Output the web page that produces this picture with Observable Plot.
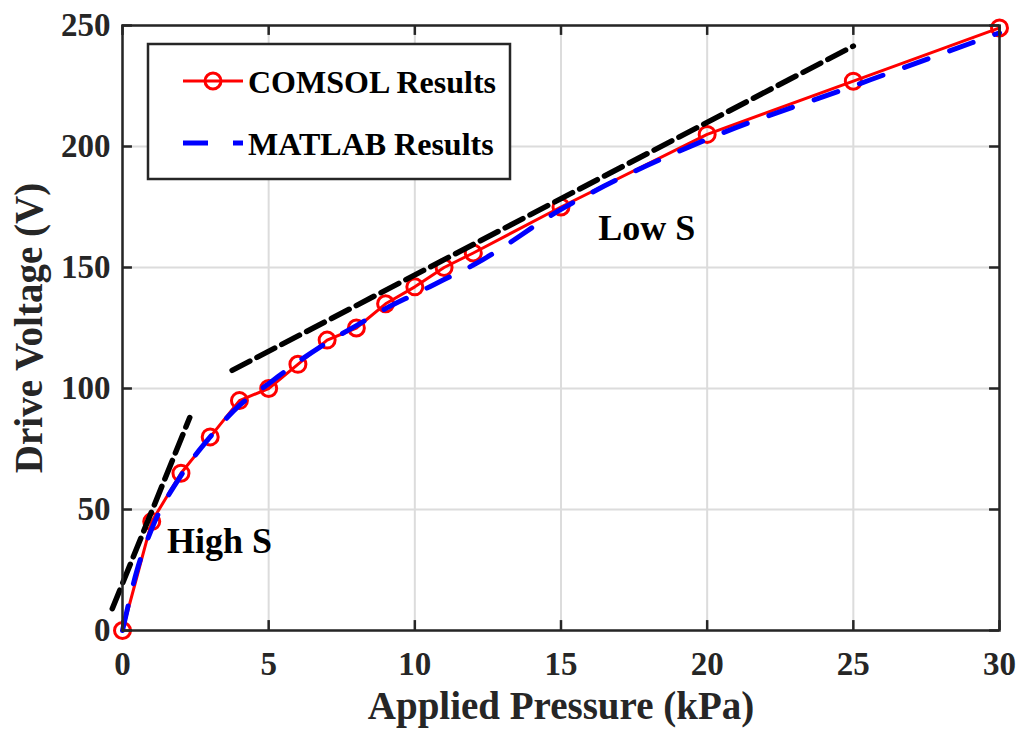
<!DOCTYPE html>
<html>
<head>
<meta charset="utf-8">
<script src="https://cdn.jsdelivr.net/npm/d3@7"></script>
<script src="https://cdn.jsdelivr.net/npm/@observablehq/plot@0.6"></script>
<style>
  body { margin: 0; background: #fff; }
</style>
</head>
<body>
<div id="chart"></div>
<script>
// Applied pressure (kPa) vs. drive voltage (V)
const comsolPressure = [0, 1, 2, 3, 4, 5, 6, 7, 8, 9, 10, 11, 12, 15, 20, 25, 30];
const comsolVoltage  = [0, 45, 65, 80, 95, 100, 110, 120, 125, 135, 142, 150, 156, 175, 205, 227, 249];

const matlabPressure = [0, 0.5, 1, 2, 3, 4, 5, 6, 7, 8, 9, 10, 11, 12, 15, 20, 25, 30];
const matlabVoltage  = [0, 25, 42, 64, 80, 93, 102, 111, 119, 126, 133, 139, 145, 151, 174, 203, 225, 247];

// Sensitivity tangent lines
const highSPressure = [-0.35, 2.3];
const highSVoltage  = [9, 88];
const lowSPressure  = [3.75, 25];
const lowSVoltage   = [107.5, 241.5];

const annotationText     = ["High S", "Low S"];
const annotationPressure = [3.32, 17.93];
const annotationVoltage  = [36.8, 166.3];

const xTicks = [0, 5, 10, 15, 20, 25, 30];
const yTicks = [0, 50, 100, 150, 200, 250];

const seriesNames = ["COMSOL Results", "MATLAB Results"];

const zip = (xs, ys) => xs.map((x, i) => ({x, y: ys[i]}));
const comsol = zip(comsolPressure, comsolVoltage);
const matlab = zip(matlabPressure, matlabVoltage);
const highS = zip(highSPressure, highSVoltage);
const lowS = zip(lowSPressure, lowSVoltage);
const notes = annotationText.map((t, i) => ({t, x: annotationPressure[i], y: annotationVoltage[i]}));

const axisColor = "#262626";
const font = "'Liberation Serif', 'Times New Roman', serif";
const tickX = 0.34;  // inward tick length in kPa
const tickY = 4.1;   // inward tick length in V

const plot = Plot.plot({
  width: 1025,
  height: 738,
  marginLeft: 122,
  marginRight: 26,
  marginTop: 25,
  marginBottom: 108,
  x: {domain: [0, 30]},
  y: {domain: [0, 250]},
  style: {fontFamily: font, fontWeight: "bold", fontSize: "33px", color: axisColor, background: "#fff", overflow: "visible"},
  marks: [
    Plot.gridX(xTicks, {stroke: "#dcdcdc", strokeOpacity: 1, strokeWidth: 2}),
    Plot.gridY(yTicks, {stroke: "#dcdcdc", strokeOpacity: 1, strokeWidth: 2}),
    Plot.line(comsol, {x: "x", y: "y", stroke: "#ff0000", strokeWidth: 3}),
    Plot.dot(comsol, {x: "x", y: "y", r: 8, stroke: "#ff0000", strokeWidth: 3, fill: "none"}),
    Plot.line(matlab, {x: "x", y: "y", stroke: "#0000ff", strokeWidth: 5, strokeDasharray: "25,23", curve: "monotone-x"}),
    Plot.line(highS, {x: "x", y: "y", stroke: "#000", strokeWidth: 5.5, strokeDasharray: "20,8"}),
    Plot.line(lowS, {x: "x", y: "y", stroke: "#000", strokeWidth: 5.5, strokeDasharray: "20,8"}),
    Plot.frame({stroke: axisColor, strokeWidth: 2.5}),
    Plot.ruleX(xTicks, {y1: 0, y2: tickY, stroke: axisColor, strokeWidth: 2.5}),
    Plot.ruleX(xTicks, {y1: 250 - tickY, y2: 250, stroke: axisColor, strokeWidth: 2.5}),
    Plot.ruleY(yTicks, {x1: 0, x2: tickX, stroke: axisColor, strokeWidth: 2.5}),
    Plot.ruleY(yTicks, {x1: 30 - tickX, x2: 30, stroke: axisColor, strokeWidth: 2.5}),
    Plot.axisX({ticks: xTicks, tickSize: 0, tickPadding: 21, label: null, fontSize: 33}),
    Plot.axisY({ticks: yTicks, tickSize: 0, tickPadding: 12, label: null, fontSize: 33}),
    Plot.text(["Applied Pressure (kPa)"], {text: d => d, frameAnchor: "bottom", dy: 76, lineAnchor: "middle", fontSize: 39, fill: axisColor}),
    Plot.text(["Drive Voltage (V)"], {text: d => d, frameAnchor: "left", dx: -93, rotate: -90, textAnchor: "middle", lineAnchor: "middle", fontSize: 39, fill: axisColor}),
    Plot.text(notes, {x: "x", y: "y", text: "t", fontSize: 36, fill: "#000"})
  ]
});

document.getElementById("chart").appendChild(plot);

// Legend box in the upper-left corner of the plot area
const svg = d3.select(plot);
const lg = svg.append("g").attr("font-family", font).attr("font-weight", "bold").attr("text-anchor", "start");
lg.append("rect").attr("x", 148).attr("y", 44).attr("width", 362).attr("height", 135)
  .attr("fill", "#fff").attr("stroke", axisColor).attr("stroke-width", 2.5);
lg.append("line").attr("x1", 183).attr("x2", 243).attr("y1", 81).attr("y2", 81)
  .attr("stroke", "#ff0000").attr("stroke-width", 3);
lg.append("circle").attr("cx", 213).attr("cy", 81).attr("r", 8)
  .attr("fill", "none").attr("stroke", "#ff0000").attr("stroke-width", 3);
lg.append("line").attr("x1", 183).attr("x2", 243).attr("y1", 143).attr("y2", 143)
  .attr("stroke", "#0000ff").attr("stroke-width", 5).attr("stroke-dasharray", "25,25");
lg.selectAll("text.entry").data(seriesNames).join("text")
  .attr("class", "entry")
  .attr("x", 248).attr("y", (d, i) => i === 0 ? 93 : 155)
  .attr("font-size", 32).attr("fill", "#000")
  .text(d => d);
</script>
</body>
</html>
